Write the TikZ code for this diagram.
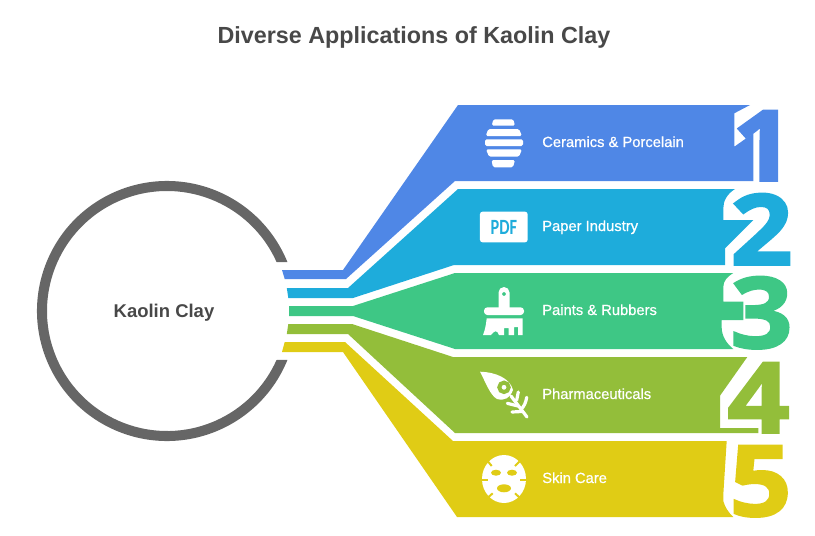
\documentclass[tikz,border=0pt]{standalone}
\usepackage{fontspec}
\setmainfont{Liberation Sans}
\newfontfamily\labelface[FakeBold=0.6]{Liberation Sans}
\newfontfamily\digitface[FakeBold=2,FakeStretch=1.11]{Open Sans Bold}
\newfontfamily\pdfface[FakeStretch=0.75]{Carlito Bold}
\usetikzlibrary{positioning,calc}
\definecolor{bandblue}{HTML}{4F87E6}
\definecolor{bandteal}{HTML}{1EACDB}
\definecolor{bandgreen}{HTML}{3EC785}
\definecolor{bandolive}{HTML}{93BE3A}
\definecolor{bandyellow}{HTML}{E0CC15}
\definecolor{ringgrey}{HTML}{666666}
\definecolor{titlegrey}{HTML}{484848}
\tikzset{digit/.style={inner sep=0,anchor=base west,font=\digitface\fontsize{74}{76}\selectfont},
	iconpart/.style={fill=white,rounded corners=1.2pt},
	iconline/.style={draw=white,line width=2.4pt,line cap=round,fill=none},
	masknotch/.style={draw=bandyellow,line width=1.5pt}}
\newcommand{\drawlabel}{\node[anchor=base west,inner sep=0,text=white,font=\labelface\fontsize{11.05}{12}\selectfont]}
\newcommand{\drawdigit}{\node[digit]}

\begin{document}
\begin{tikzpicture}[x=0.75pt,y=-0.75pt]
	\useasboundingbox (0,0) rectangle (815,536);
	
	\node[titlegrey,font=\bfseries\fontsize{17.5}{22}\selectfont] (title) at (414,37) {Diverse Applications of Kaolin Clay};
	
	% ring and centre
	\coordinate (hub) at (167,311);
	\fill[ringgrey] (hub) ++(22.1:130) arc[start angle=22.1,end angle=337.9,radius=130]
		-- ($(hub)+(-24.1:120)$) arc[start angle=335.9,end angle=24.1,radius=120] -- cycle;
	\node[titlegrey,font=\bfseries\fontsize{13.85}{16}\selectfont] (centre) at (164,313) {Kaolin Clay};
	
	% bands, right ends leave a gap round the digit
	\fill[bandblue] (282,270) -- (343,270) -- (458,105) -- (750,105) -- (734.3,113.3) -- (734.3,146.7) -- (753.3,133.3) -- (753.3,181) -- (455,181) -- (346,279) -- (284.7,279) -- cycle;
	\fill[bandteal] (286.8,288) -- (348,288) -- (458,189) -- (735,189) .. controls (727,194) and (723.3,201) .. (723.3,208.3) -- (723.3,220) -- (753.3,220) -- (725,248.3) -- (725,265) -- (454,265) -- (353,298) -- (288.3,298) -- cycle;
	\fill[bandgreen] (289,306) -- (353,306) -- (455,273) -- (733.3,273) .. controls (727,277) and (723.3,281) .. (723.3,287) -- (723.3,301.7) -- (743.3,301.7) -- (743.3,320) -- (721.7,320) -- (721.7,328) .. controls (722,336) and (726,343) .. (733.3,349) -- (455,349) -- (353,316) -- (289,316) -- cycle;
	\fill[bandolive] (288.3,324) -- (352,324) -- (453,357) -- (747.3,357) -- (720,395.7) -- (720,428) -- (758.3,428) -- (758.3,433) -- (455,433) -- (348,334) -- (286.8,334) -- cycle;
	\fill[bandyellow] (284.7,342) -- (345,342) -- (453,441) -- (726.7,441) -- (723.3,494.7) -- (723.3,501) .. controls (725,507) and (728,512) .. (733.3,517) -- (457,517) -- (343,352) -- (282,352) -- cycle;
	
	% digits
	\drawdigit[text=bandblue] (n1) at (731.5,181) {1};
	\drawdigit[text=bandteal] (n2) at (730,265) {2};
	\drawdigit[text=bandgreen] (n3) at (730,348) {3};
	\drawdigit[text=bandolive] (n4) at (727,433) {4};
	\drawdigit[text=bandyellow] (n5) at (729,516) {5};
	
	% labels
	\drawlabel (l1) at (542,147) {Ceramics \& Porcelain};
	\drawlabel (l2) at (542,231) {Paper Industry};
	\drawlabel (l3) at (542,315) {Paints \& Rubbers};
	\drawlabel (l4) at (542,399) {Pharmaceuticals};
	\drawlabel (l5) at (542,483) {Skin Care};
	
	% barrel
	\fill[iconpart] (493.3,119.3) -- (513.3,119.3) -- (515,125.7) -- (491.7,125.7) -- cycle;
	\fill[iconpart] (488.3,129) -- (519,129) -- (522,136) -- (485.7,136) -- cycle;
	\fill[iconpart] (485,139.3) -- (523,139.3) -- (523,146) -- (485,146) -- cycle;
	\fill[iconpart] (486,149.3) -- (522,149.3) -- (519,156.7) -- (489,156.7) -- cycle;
	\fill[iconpart] (491.5,160) -- (515,160) -- (513,167.3) -- (493,167.3) -- cycle;
	
	% pdf badge
	\node[fill=white,rounded corners=2pt,minimum width=35.8pt,minimum height=23pt,inner sep=0,text=bandteal,font=\pdfface\fontsize{16.3}{16}\selectfont] (pdf) at (503.8,227) {PDF};
	
	% brush
	\fill[white,even odd rule] (498.5,308) -- (498.5,292.5) arc[start angle=180,end angle=360,radius=5.5] -- (509.5,308) -- cycle (504,294) circle (2);
	\fill[iconpart,rounded corners=2.5pt] (484,307.3) -- (524,307.3) -- (524,315) -- (484,315) -- cycle;
	\fill[white] (486.7,318.3) -- (522.5,318.3) -- (522.5,335) -- (518,335) -- (518,327) -- (514,327) -- (514,335) -- (508.5,335) -- (508.5,328) -- (504,328) -- (504,335) -- (499,335) .. controls (497,330) and (495,330) .. (491,335) -- (483,335) .. controls (485,330) and (486,325) .. (486.7,318.3) -- cycle;
	
	% leaf
	\fill[white] (480,371.7) .. controls (495,372) and (510,378) .. (513,390) .. controls (510,398) and (505,401) .. (497,399) .. controls (490,395) and (486,383) .. (480,371.7) -- cycle;
	\draw[bandolive,line width=3pt] (504,387.3) circle (4.7);
	\draw[iconline] (511,396) -- (527,417);
	\draw[iconline] (518.3,392) -- (516.7,400);
	\draw[iconline] (526.7,397.3) .. controls (526,402) and (524,407) .. (521,409);
	\draw[iconline] (507.3,403.3) -- (518,406);
	\draw[iconline] (512,412) -- (522,411.5);
	
	% mask
	\fill[white] (504,479) ellipse (22 and 24);
	\fill[bandyellow] (496,472.7) ellipse (5 and 3);
	\fill[bandyellow] (512,472.7) ellipse (5 and 3);
	\fill[bandyellow] (504,488.3) ellipse (7 and 4);
	\draw[masknotch] (488,461.5) -- (491.7,466);
	\draw[masknotch] (519.5,461.5) -- (515,466);
	\draw[masknotch] (482,480) -- (488.3,480);
	\draw[masknotch] (526,480) -- (520,480);
	\draw[masknotch] (488,497.5) -- (492.7,493.3);
	\draw[masknotch] (519.5,497.5) -- (515,493.3);
	
\end{tikzpicture}
\end{document}
